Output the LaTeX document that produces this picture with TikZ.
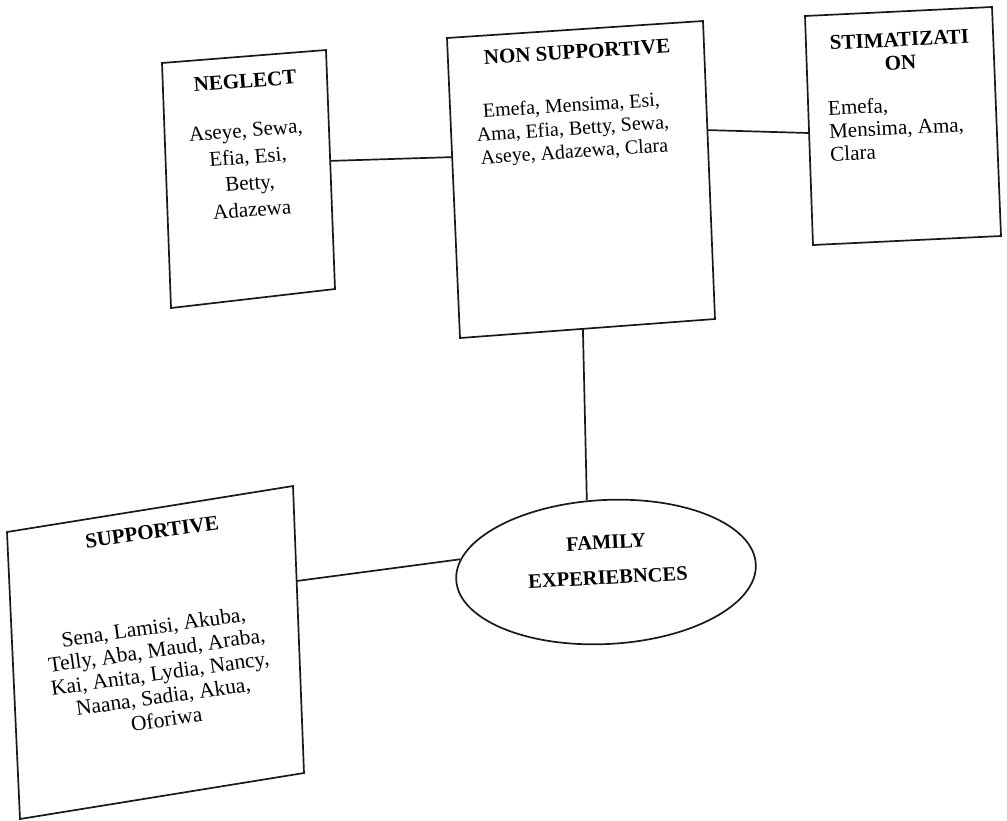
\documentclass[tikz,border=0pt]{standalone}
\usepackage{fontspec}
\setmainfont{Liberation Serif}
\usetikzlibrary{shapes.geometric,calc}
\begin{document}
\begin{tikzpicture}[x=1pt,y=-1pt,
  outline/.style={draw=black!90, line width=1.7pt, line join=miter},
  link/.style={draw=black!90, line width=1.7pt},
  head/.style={font=\fontsize{21}{23}\selectfont\bfseries, align=center, inner sep=0pt},
  names/.style={font=\fontsize{20}{23}\selectfont, align=center, inner sep=0pt},
]
\useasboundingbox (0,0) rectangle (1007,820);

% box corners
\coordinate (ngTL) at (162,63);  \coordinate (ngTR) at (326,50);
\coordinate (ngBR) at (335,289); \coordinate (ngBL) at (171,308);
\coordinate (nsTL) at (447,38);  \coordinate (nsTR) at (703,21);
\coordinate (nsBR) at (715,319); \coordinate (nsBL) at (460,338);
\coordinate (stTL) at (805,16);  \coordinate (stTR) at (992,7);
\coordinate (stBR) at (1001,236);\coordinate (stBL) at (813,245);
\coordinate (spTL) at (7,532);   \coordinate (spTR) at (293,486);
\coordinate (spBR) at (304,773); \coordinate (spBL) at (20,819);

% boxes
\draw[outline] (ngTL) -- (ngTR) -- (ngBR) -- (ngBL) -- cycle;
\draw[outline] (nsTL) -- (nsTR) -- (nsBR) -- (nsBL) -- cycle;
\draw[outline] (stTL) -- (stTR) -- (stBR) -- (stBL) -- cycle;
\draw[outline] (spTL) -- (spTR) -- (spBR) -- (spBL) -- cycle;

% central ellipse
\node[ellipse, outline, minimum width=300pt, minimum height=144pt,
      inner sep=0pt, rotate=3] (fam) at (606,572) {};

% box texts
\node[head, rotate=4.5] (ngHead) at (245,81) {NEGLECT};
\node[names, rotate=4.5, font=\fontsize{21}{26.5}\selectfont] (ngNames) at (249,170)
  {Aseye, Sewa,\\Efia, Esi,\\Betty,\\Adazewa};

\node[head, rotate=3.8] (nsHead) at (577,52) {NON SUPPORTIVE};
\node[names, rotate=3.8] (nsNames) at (573,130)
  {Emefa, Mensima, Esi,\\Ama, Efia, Betty, Sewa,\\Aseye, Adazewa, Clara};

\node[head, rotate=2.8] (stHead) at (900,51) {STIMATIZATI\\ON};
\node[names, rotate=2.8, align=left, anchor=west, font=\fontsize{21}{23}\selectfont]
  (stNames) at (829,131) {Emefa,\\Mensima, Ama,\\Clara};

\node[head, rotate=8] (spHead) at (152,532) {SUPPORTIVE};
\node[names, rotate=8, font=\fontsize{21.5}{23.3}\selectfont] (spNames) at (160,673)
  {Sena, Lamisi, Akuba,\\Telly, Aba, Maud, Araba,\\Kai, Anita, Lydia, Nancy,\\Naana, Sadia, Akua,\\Oforiwa};

\node[head, rotate=3, font=\fontsize{20.5}{35}\selectfont\bfseries] (famText) at (607,560)
  {FAMILY\\EXPERIEBNCES};

% connector end points on the box edges
\coordinate (ngR) at ($(ngTR)!0.464!(ngBR)$);
\coordinate (nsL) at ($(nsTL)!0.397!(nsBL)$);
\coordinate (nsR) at ($(nsTR)!0.366!(nsBR)$);
\coordinate (stL) at ($(stTL)!0.511!(stBL)$);
\coordinate (nsB) at ($(nsBL)!0.482!(nsBR)$);
\coordinate (spR) at ($(spTR)!0.331!(spBR)$);

% connectors
\draw[link] (ngR) -- (nsL);
\draw[link] (nsR) -- (stL);
\draw[link] (nsB) -- (fam.102);
\draw[link] (spR) -- (fam.172);
\end{tikzpicture}
\end{document}
